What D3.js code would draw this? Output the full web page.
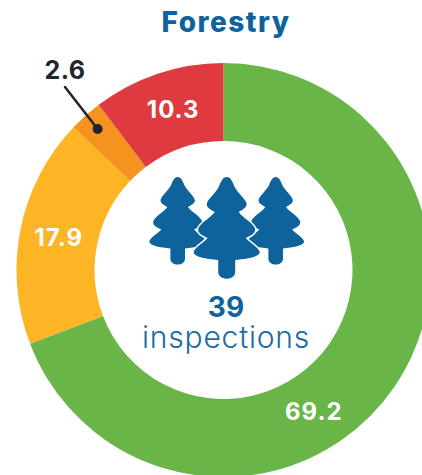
<!DOCTYPE html>
<html><head><meta charset="utf-8">
<script src="https://cdnjs.cloudflare.com/ajax/libs/d3/7.8.5/d3.min.js"></script>
<style>html,body{margin:0;padding:0;background:#fff;overflow:hidden}text{font-family:Inter,"Open Sans",sans-serif}</style>
</head><body><svg id="c" width="422" height="475"></svg>
<script>
const categories=["Green","Yellow","Orange","Red"];
const values=[69.2,17.9,2.6,10.3];
const colors=["#69b548","#fdb525","#f6931e","#e03a41"];
const labelFractions=[0.592,0.5,0.5,0.53];
const title="Forestry";
const count="39";
const unit="inspections";
const cx=223.5,cy=270,R=207,r=129;
const svg=d3.select("#c");
const g=svg.append("g").attr("transform",`translate(${cx},${cy})`);
const pie=d3.pie().sort(null)(values);
const arc=d3.arc().innerRadius(r).outerRadius(R);
g.selectAll("path").data(pie).join("path").attr("d",arc).attr("fill",(d,i)=>colors[i]);
const fmt=d3.format(".1f");
const polar=(d,i,rad)=>{const a=d.startAngle+(d.endAngle-d.startAngle)*labelFractions[i];return [rad*Math.sin(a),-rad*Math.cos(a)];};
g.selectAll("text.v").data(pie).join("text").attr("class","v")
 .attr("transform",(d,i)=>{const [x,y]=polar(d,i,168);return `translate(${x},${y})`;})
 .attr("display",(d,i)=>i===2?"none":null)
 .attr("text-anchor","middle").attr("dy","0.36em").attr("fill","#fff")
 .attr("font-size",24).attr("letter-spacing",1).attr("font-weight",700).text(d=>fmt(d.data));
// leader for the small slice
const [sx,sy]=polar(pie[2],2,189);
const lx=65-cx,ly=87-cy;
g.append("line").attr("x1",sx).attr("y1",sy).attr("x2",lx).attr("y2",ly).attr("stroke","#1d2433").attr("stroke-width",2.5).attr("stroke-linecap","round");
g.append("circle").attr("cx",sx).attr("cy",sy).attr("r",5).attr("fill","#1d2433");
g.append("text").attr("x",lx).attr("y",ly-8).attr("text-anchor","middle").attr("fill","#222631").attr("font-size",25).attr("letter-spacing",.5).attr("font-weight",700).text(fmt(values[2]));
svg.append("text").attr("x",226).attr("y",32).attr("text-anchor","middle").attr("fill","#0f639c").attr("font-size",28).attr("letter-spacing",1.5).attr("font-weight",800).text(title);
// trees
const treeShape="M0,0C4,0 6,5 8,10C11,16 19,22 20,27C20,31 15,33 12,35C16,41 27,46 28.5,52C29,57 23,59 19,61C23,66 32,70 33,75C33,80 20,82 8.5,83L8.5,95C8.5,104 -8.5,104 -8.5,95L-8.5,83C-20,82 -33,80 -33,75C-32,70 -23,66 -19,61C-23,59 -29,57 -28.5,52C-27,46 -16,41 -12,35C-15,33 -20,31 -20,27C-19,22 -11,16 -8,10C-6,5 -4,0 0,0Z";
const trees=[{x:177.7,y:177,s:.86},{x:275.7,y:177,s:.86},{x:226.7,y:177,s:1}];
svg.selectAll("path.tree").data(trees).join("path").attr("class","tree").attr("d",treeShape)
 .attr("transform",d=>`translate(${d.x},${d.y}) scale(${d.s})`).attr("fill","#0f639c")
 .attr("stroke",(d,i)=>i==2?"#fff":"none").attr("stroke-width",3).attr("paint-order","stroke");
svg.append("text").attr("x",226).attr("y",317).attr("text-anchor","middle").attr("fill","#0f639c").attr("font-size",28).attr("font-weight",700).text(count);
svg.append("text").attr("x",226).attr("y",348).attr("text-anchor","middle").attr("fill","#1b6ba3").attr("font-size",30).attr("letter-spacing",.8).attr("font-weight",300).text(unit);
</script></body></html>
